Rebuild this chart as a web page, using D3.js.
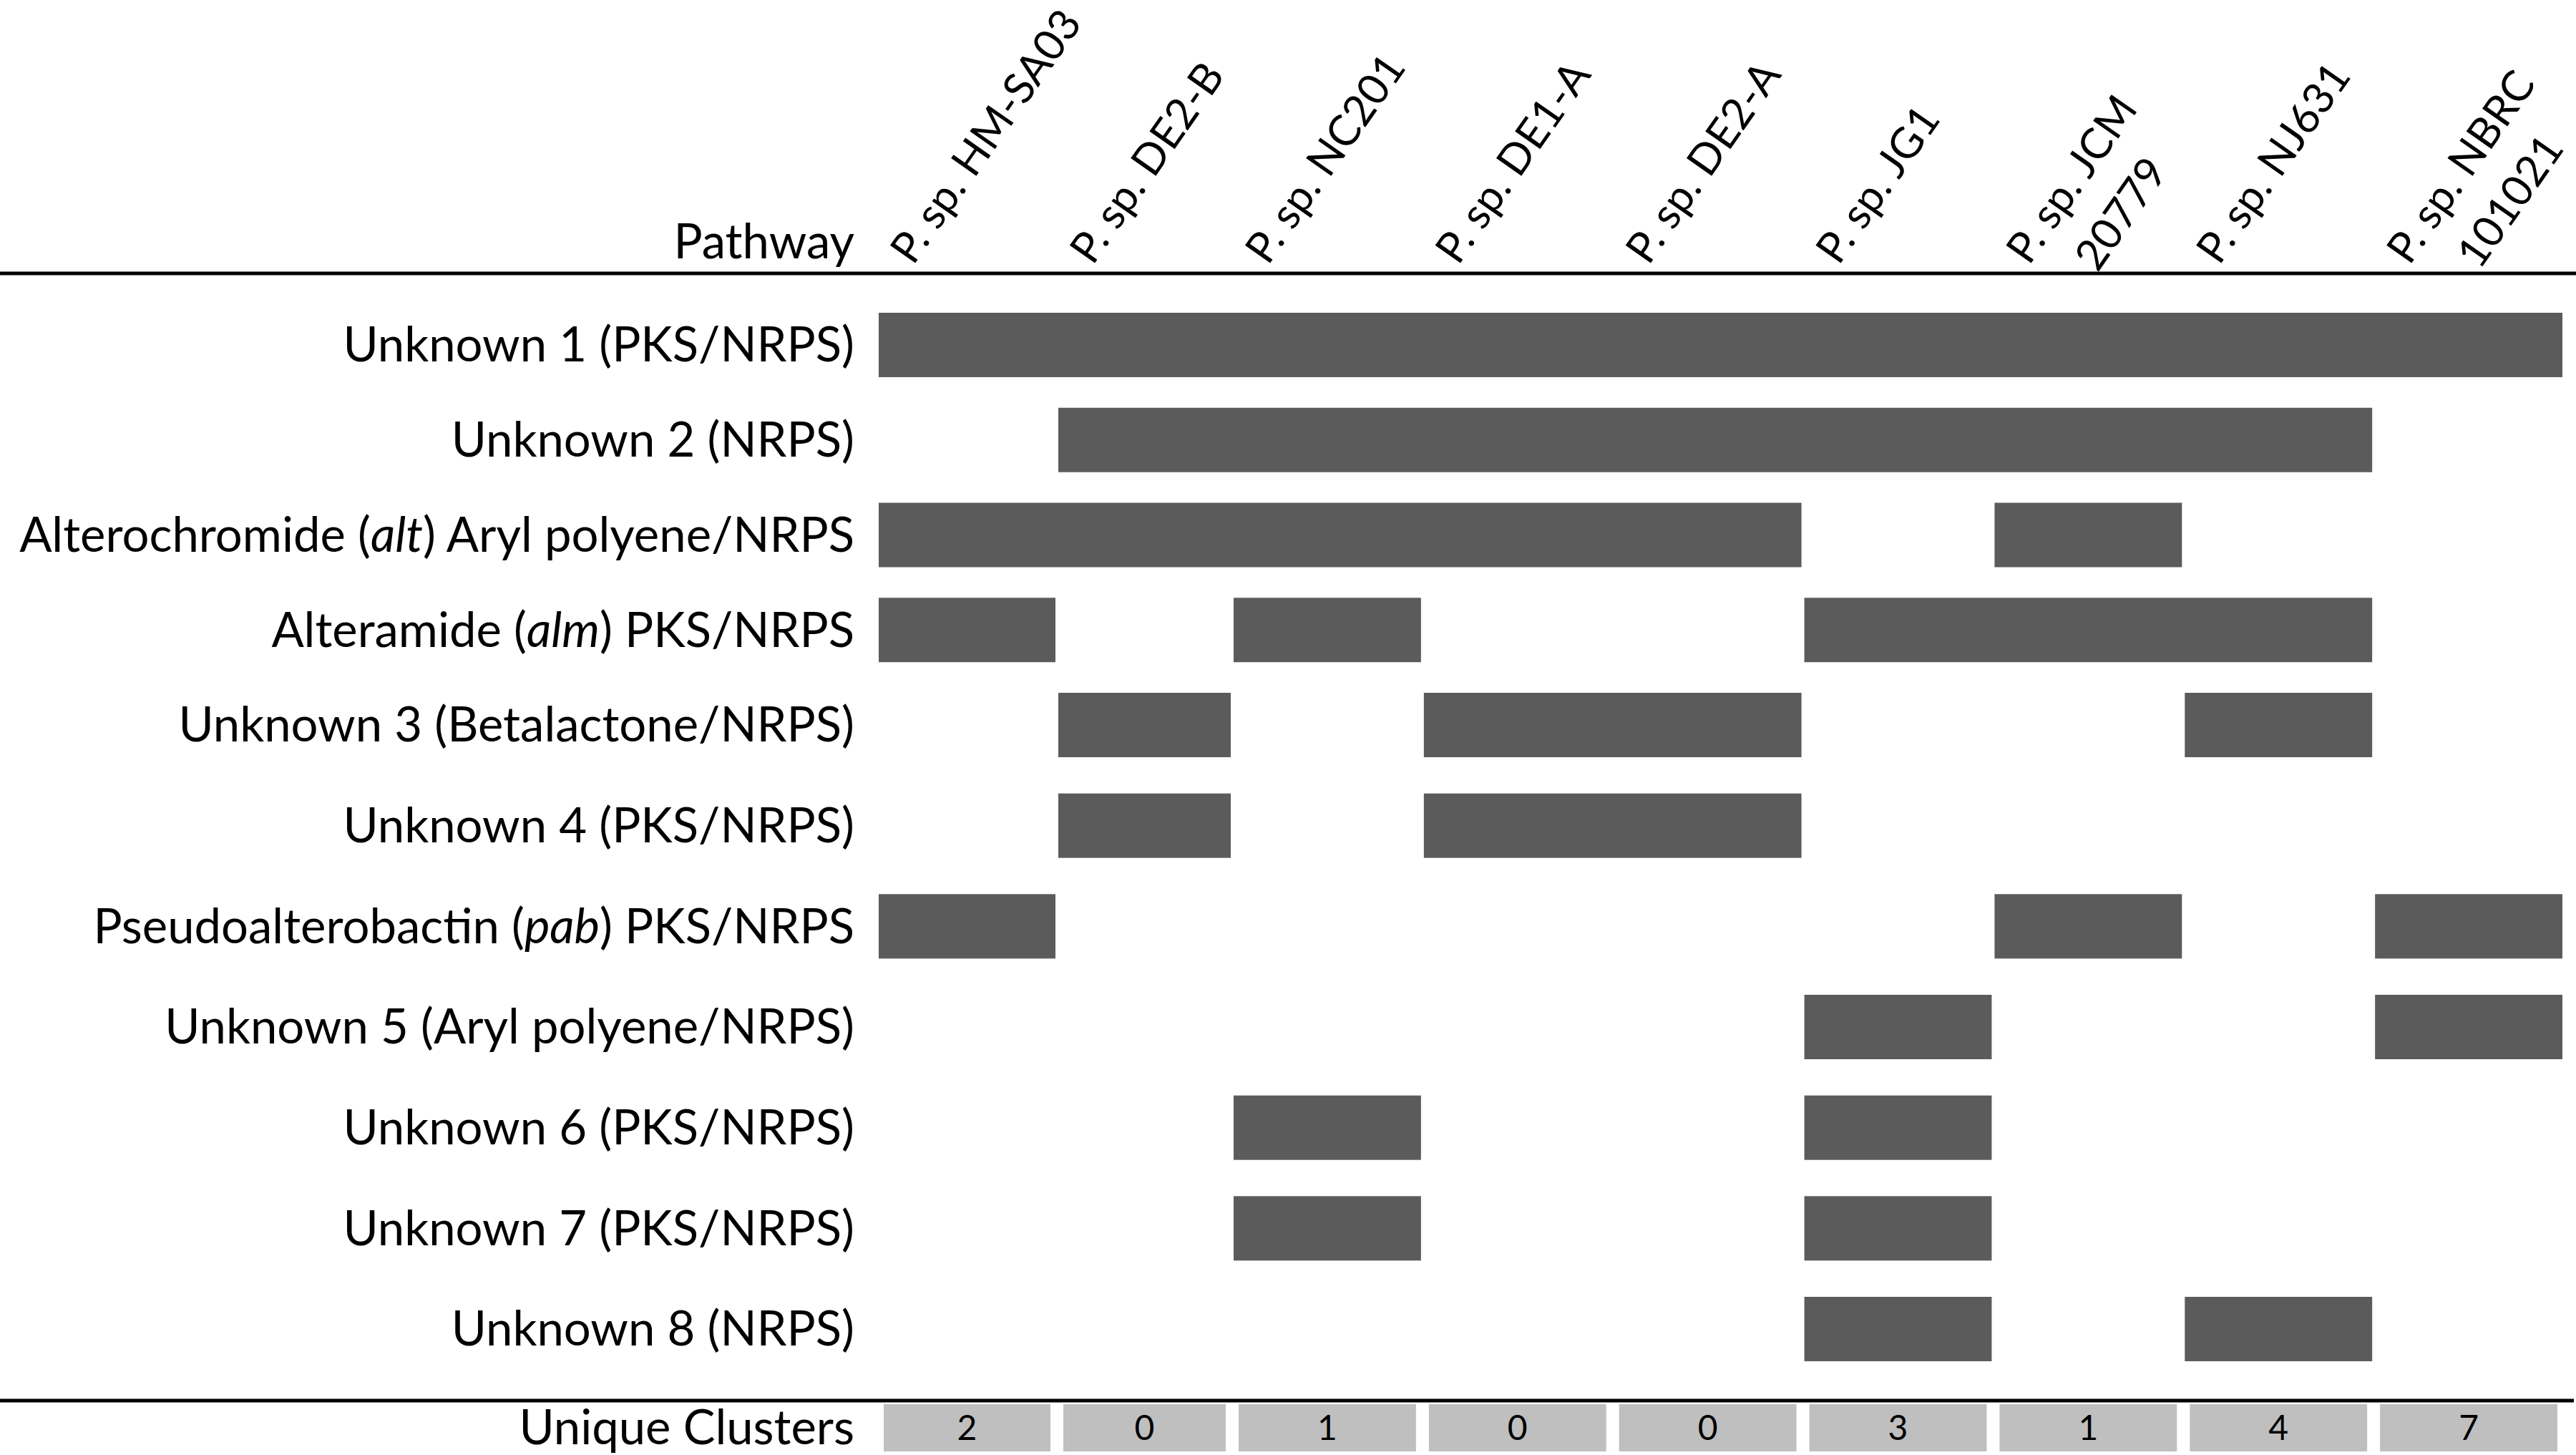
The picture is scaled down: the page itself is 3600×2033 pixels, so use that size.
<!DOCTYPE html>
<html>
<head>
<meta charset="utf-8">
<script src="https://cdn.jsdelivr.net/npm/d3@7"></script>
<style>
  html, body { margin: 0; padding: 0; background: #fff; }
  svg { display: block; font-family: Lato, "Open Sans", sans-serif; }
</style>
</head>
<body>
<svg id="chart" width="3600" height="2033"></svg>
<script>
// strains (columns); a second entry means the name wraps onto a second line
var strains = [
    ["P. sp. HM-SA03"],
    ["P. sp. DE2-B"],
    ["P. sp. NC201"],
    ["P. sp. DE1-A"],
    ["P. sp. DE2-A"],
    ["P. sp. JG1"],
    ["P. sp. JCM", "20779"],
    ["P. sp. NJ631"],
    ["P. sp. NBRC", "101021"]
];

// pathway rows, _word_ is set in italics
var pathways = [
    "Unknown 1 (PKS/NRPS)",
    "Unknown 2 (NRPS)",
    "Alterochromide (_alt_) Aryl polyene/NRPS",
    "Alteramide (_alm_) PKS/NRPS",
    "Unknown 3 (Betalactone/NRPS)",
    "Unknown 4 (PKS/NRPS)",
    "Pseudoalterobactin (_pab_) PKS/NRPS",
    "Unknown 5 (Aryl polyene/NRPS)",
    "Unknown 6 (PKS/NRPS)",
    "Unknown 7 (PKS/NRPS)",
    "Unknown 8 (NRPS)"
];

// runs of strains holding each pathway: [first column, last column]
var presence = [
    [[0, 8]],
    [[1, 7]],
    [[0, 4], [6, 6]],
    [[0, 0], [2, 2], [5, 7]],
    [[1, 1], [3, 4], [7, 7]],
    [[1, 1], [3, 4]],
    [[0, 0], [6, 6], [8, 8]],
    [[5, 5], [8, 8]],
    [[2, 2], [5, 5]],
    [[2, 2], [5, 5]],
    [[5, 5], [7, 7]]
];

var uniqueClusters = [2, 0, 1, 0, 0, 3, 1, 4, 7];

var svg = d3.select('#chart');
var W = 3600;

// column edges (the first two columns are a bit narrower in the original)
var x = d3.scaleLinear().domain([0, 1, 2, 9]).range([1226, 1477, 1722, 3583]);
// row centres
var y = d3.scaleLinear().domain([0, 4, 10]).range([482, 1013, 1857]);

var barH = 90,
    labelX = 1194,
    fs = 67;

svg.append('rect').attr('width', W).attr('height', 2033).attr('fill', '#fff');

// header
svg.append('text')
    .attr('x', labelX).attr('y', 361)
    .attr('text-anchor', 'end')
    .style('font-size', fs + 'px')
    .text('Pathway');

var head = svg.selectAll('g.strain').data(strains).enter().append('g')
    .attr('class', 'strain')
    .attr('transform', function (d, i) { return 'translate(' + (x(i) + 50) + ',372) rotate(-55)'; });

head.each(function (lines) {
    var t = d3.select(this).append('text').style('font-size', '60px');
    var first = t.append('tspan').attr('x', 0).attr('y', 0).text(lines[0]);
    if (lines.length > 1) {
        var w1 = first.node().getComputedTextLength();
        var second = t.append('tspan').attr('y', 84).text(lines[1]);
        var w2 = second.node().getComputedTextLength();
        second.attr('x', (w1 - w2) / 2);
    }
});

svg.append('line')
    .attr('x1', 0).attr('x2', W)
    .attr('y1', 382).attr('y2', 382)
    .attr('stroke', '#000').attr('stroke-width', 5);

// row labels
var rowLabels = svg.selectAll('text.row').data(pathways).enter().append('text')
    .attr('class', 'row')
    .attr('x', labelX)
    .attr('y', function (d, i) { return y(i); })
    .attr('dy', '0.35em')
    .attr('text-anchor', 'end')
    .style('font-size', fs + 'px');

rowLabels.each(function (d) {
    var t = d3.select(this);
    d.split('_').forEach(function (part, k) {
        if (!part) return;
        var s = t.append('tspan').text(part);
        if (k % 2 === 1) s.style('font-style', 'italic');
    });
});

// presence bars
var bars = [];
presence.forEach(function (runs, r) {
    runs.forEach(function (run) { bars.push({ row: r, from: run[0], to: run[1] }); });
});

svg.selectAll('rect.bar').data(bars).enter().append('rect')
    .attr('class', 'bar')
    .attr('x', function (d) { return x(d.from) + 2; })
    .attr('width', function (d) { return x(d.to + 1) - x(d.from) - 4; })
    .attr('y', function (d) { return y(d.row) - barH / 2; })
    .attr('height', barH)
    .attr('fill', '#5b5b5b');

// unique clusters footer
svg.append('line')
    .attr('x1', 0).attr('x2', 3597)
    .attr('y1', 1957).attr('y2', 1957)
    .attr('stroke', '#000').attr('stroke-width', 5);

svg.append('text')
    .attr('x', labelX).attr('y', 2018)
    .attr('text-anchor', 'end')
    .style('font-size', fs + 'px')
    .text('Unique Clusters');

var cells = svg.selectAll('g.uc').data(uniqueClusters).enter().append('g').attr('class', 'uc');

cells.append('rect')
    .attr('x', function (d, i) { return x(i) + 9; })
    .attr('width', function (d, i) { return x(i + 1) - x(i) - 18; })
    .attr('y', 1962)
    .attr('height', 66)
    .attr('fill', '#bfbfbf');

cells.append('text')
    .attr('x', function (d, i) { return (x(i) + x(i + 1)) / 2; })
    .attr('y', 2012)
    .attr('text-anchor', 'middle')
    .style('font-size', '48px')
    .text(function (d) { return d; });
</script>
</body>
</html>
